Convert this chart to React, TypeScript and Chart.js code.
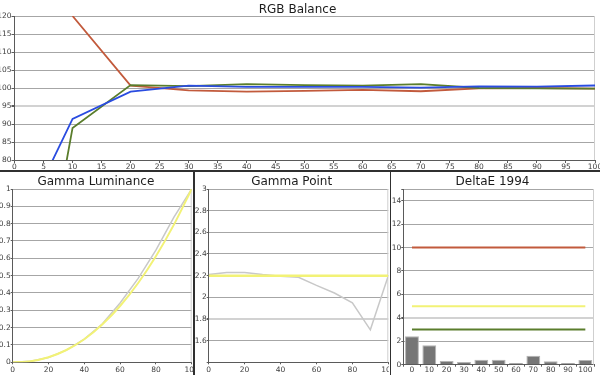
import React, { useEffect, useRef } from 'react';
import { Chart, registerables } from 'chart.js';
Chart.register(...registerables);

// ---------- data ----------
const rgbX = [0, 10, 20, 30, 40, 50, 60, 70, 80, 90, 100];
const rgbRed = [null, 120, 100.65, 99.35, 99.0, 99.2, 99.5, 99.1, 99.9, 100.0, 99.8];
const rgbGreen = [0, 88.9, 100.8, 100.5, 101.1, 100.8, 100.65, 101.1, 100.0, 99.9, 99.8];
const rgbBlue = [58, 91.4, 99.0, 100.65, 100.3, 100.3, 100.3, 100.1, 100.45, 100.4, 100.7];

const gammaX = [0, 10, 20, 30, 40, 50, 60, 70, 80, 90, 100];
const lumMeasured = [0, 0.006, 0.028, 0.07, 0.134, 0.221, 0.342, 0.483, 0.647, 0.836, 1];
const lumTarget = [0, 0.006, 0.029, 0.071, 0.133, 0.218, 0.325, 0.456, 0.612, 0.793, 1];

const gpMeasured = [2.21, 2.23, 2.23, 2.21, 2.195, 2.185, 2.11, 2.04, 1.95, 1.7, 2.2];
const gpTarget = [2.2, 2.2, 2.2, 2.2, 2.2, 2.2, 2.2, 2.2, 2.2, 2.2, 2.2];

const deCats = ['0', '10', '20', '30', '40', '50', '60', '70', '80', '90', '100'];
const deValues = [2.42, 1.66, 0.31, 0.22, 0.42, 0.42, 0.15, 0.76, 0.3, 0.15, 0.4];
const deRed = [10, 10, 10, 10, 10, 10, 10, 10, 10, 10, 10];
const deYellow = [5, 5, 5, 5, 5, 5, 5, 5, 5, 5, 5];
const deGreen = [3, 3, 3, 3, 3, 3, 3, 3, 3, 3, 3];

// ---------- styles ----------
const FONT = 'DejaVu Sans';
const TICK_FONT = { family: FONT, size: 7.5 };
const TICK_COLOR = '#404040';
const AXIS = '#5a5a5a';
const GRID = '#a6a6a6';
const LIGHT = '#d2d2d2';
const RED = '#c25a3c';
const GREEN = '#5a7d2c';
const BLUE = '#2a4ce0';
const YELLOW = '#f2f276';
const GRAY = '#c8c8c8';

const pts = (xs: number[], ys: (number | null)[]) => xs.map((x, i) => ({ x, y: ys[i] }));

const fitY = (w: number) => (s: any) => { s.width = w; s.paddingTop = 0; s.paddingBottom = 0; };
const fitX = (h: number) => (s: any) => { s.height = h; s.paddingLeft = 0; s.paddingRight = 0; };

const rightBorder = {
  id: 'rightBorder',
  beforeDatasetsDraw(chart: any) {
    const { ctx, chartArea } = chart;
    ctx.save();
    ctx.strokeStyle = '#cfcfcf';
    ctx.lineWidth = 1;
    ctx.beginPath();
    ctx.moveTo(chartArea.right - 0.5, chartArea.top);
    ctx.lineTo(chartArea.right - 0.5, chartArea.bottom);
    ctx.stroke();
    ctx.restore();
  },
};

const title = (text: string, top: number, bottom: number) => ({
  display: true,
  text,
  color: '#1c1c1c',
  font: { family: FONT, size: 12, weight: 'normal' as const, lineHeight: 1 },
  padding: { top, bottom },
});

const yGrid = (light: number | null) => ({
  color: (c: any) => (light !== null && Math.abs(c.tick.value - light) < 1e-6 ? LIGHT : GRID),
  lineWidth: (c: any) => (light !== null && Math.abs(c.tick.value - light) < 1e-6 ? 2 : 1),
  tickColor: AXIS,
  tickLength: 2,
  drawTicks: true,
});

const xGrid = { drawOnChartArea: false, drawTicks: true, tickLength: 2, color: AXIS };

function rgbConfig(): any {
  const ds = (label: string, data: (number | null)[], color: string) => ({
    label, data: pts(rgbX, data), borderColor: color, backgroundColor: color,
    borderWidth: 1.8, pointRadius: 0, tension: 0, spanGaps: false,
  });
  return {
    type: 'line',
    data: { datasets: [ds('Blue', rgbBlue, BLUE), ds('Green', rgbGreen, GREEN), ds('Red', rgbRed, RED)] },
    options: {
      responsive: false, animation: false,
      layout: { padding: { left: 0, right: 5, top: 0, bottom: 0 } },
      plugins: { legend: { display: false }, tooltip: { enabled: false }, title: title('RGB Balance', 3.5, 0.5) },
      scales: {
        x: {
          type: 'linear', min: 0, max: 100,
          ticks: { stepSize: 5, autoSkip: false, maxRotation: 0, font: TICK_FONT, color: TICK_COLOR, padding: 0 },
          grid: { ...xGrid, tickLength: 3 }, border: { color: AXIS },
          afterFit: fitX(10),
        },
        y: {
          type: 'linear', min: 80, max: 120,
          ticks: { stepSize: 5, font: TICK_FONT, color: TICK_COLOR, padding: 0 },
          grid: { ...yGrid(95), tickLength: 3 }, border: { color: AXIS },
          afterFit: fitY(14.5),
        },
      },
    },
    plugins: [rightBorder],
  };
}

function lumConfig(): any {
  return {
    type: 'line',
    data: {
      datasets: [
        { label: 'Target', data: pts(gammaX, lumTarget), borderColor: YELLOW, borderWidth: 2, pointRadius: 0, cubicInterpolationMode: 'monotone' },
        { label: 'Measured', data: pts(gammaX, lumMeasured), borderColor: GRAY, borderWidth: 1.5, pointRadius: 0, tension: 0 },
      ],
    },
    options: {
      responsive: false, animation: false,
      layout: { padding: { left: 0, right: 1.3, top: 0, bottom: 0 } },
      plugins: { legend: { display: false }, tooltip: { enabled: false }, title: title('Gamma Luminance', 3.5, 1.5) },
      scales: {
        x: {
          type: 'linear', min: 0, max: 100,
          ticks: { stepSize: 20, autoSkip: false, maxRotation: 0, font: TICK_FONT, color: TICK_COLOR, padding: 1 },
          grid: xGrid, border: { color: AXIS },
          afterFit: fitX(12.7),
        },
        y: {
          type: 'linear', min: 0, max: 1,
          ticks: { stepSize: 0.1, font: TICK_FONT, color: TICK_COLOR, padding: 0,
            callback: (v: number) => String(Math.round(v * 10) / 10) },
          grid: yGrid(null), border: { color: AXIS },
          afterFit: fitY(12.7),
        },
      },
    },
    plugins: [rightBorder],
  };
}

function gpConfig(): any {
  return {
    type: 'line',
    data: {
      datasets: [
        { label: 'Target', data: pts(gammaX, gpTarget), borderColor: YELLOW, borderWidth: 2.5, pointRadius: 0 },
        { label: 'Measured', data: pts(gammaX, gpMeasured), borderColor: GRAY, borderWidth: 1.5, pointRadius: 0, tension: 0 },
      ],
    },
    options: {
      responsive: false, animation: false,
      layout: { padding: { left: 0, right: 0.7, top: 0, bottom: 0 } },
      plugins: { legend: { display: false }, tooltip: { enabled: false }, title: title('Gamma Point', 3.5, 1.5) },
      scales: {
        x: {
          type: 'linear', min: 0, max: 100,
          ticks: { stepSize: 20, autoSkip: false, maxRotation: 0, font: TICK_FONT, color: TICK_COLOR, padding: 1 },
          grid: xGrid, border: { color: AXIS },
          afterFit: fitX(12.7),
        },
        y: {
          type: 'linear', min: 1.4, max: 3,
          ticks: { stepSize: 0.2, font: TICK_FONT, color: TICK_COLOR, padding: 0,
            callback: (v: number) => (v < 1.5 ? '' : String(Math.round(v * 10) / 10)) },
          grid: yGrid(1.8), border: { color: AXIS },
          afterFit: fitY(13.7),
        },
      },
    },
    plugins: [rightBorder],
  };
}

function deConfig(): any {
  const line = (label: string, data: number[], color: string) => ({
    type: 'line', label, data, borderColor: color, backgroundColor: color, borderWidth: 2, pointRadius: 0, order: 0,
  });
  return {
    type: 'bar',
    data: {
      labels: deCats,
      datasets: [
        line('Red', deRed, RED),
        line('Yellow', deYellow, YELLOW),
        line('Green', deGreen, GREEN),
        { type: 'bar', label: 'DeltaE', data: deValues, backgroundColor: '#767676', borderColor: '#b4b4b4',
          borderWidth: 1, barPercentage: 0.8, categoryPercentage: 1, order: 1 },
      ],
    },
    options: {
      responsive: false, animation: false,
      layout: { padding: { left: 0, right: 6, top: 0, bottom: 0 } },
      plugins: { legend: { display: false }, tooltip: { enabled: false }, title: title('DeltaE 1994', 3.5, 1.5) },
      scales: {
        x: {
          type: 'category',
          ticks: { autoSkip: false, maxRotation: 0, font: TICK_FONT, color: TICK_COLOR, padding: -1 },
          grid: { ...xGrid, offset: true }, border: { color: AXIS },
          afterFit: fitX(10.3),
        },
        y: {
          type: 'linear', min: 0, max: 15,
          ticks: { stepSize: 2, font: TICK_FONT, color: TICK_COLOR, padding: 0,
            callback: (v: number) => (v % 2 === 0 ? String(v) : '') },
          grid: yGrid(4), border: { color: AXIS },
          afterFit: fitY(12.3),
        },
      },
    },
    plugins: [rightBorder],
  };
}

function Panel({ left, top, width, height, make }: { left: number; top: number; width: number; height: number; make: () => any }) {
  const ref = useRef<HTMLCanvasElement | null>(null);
  useEffect(() => {
    if (!ref.current) return;
    const chart = new Chart(ref.current, make());
    return () => chart.destroy();
  }, [make]);
  return (
    <div style={{ position: 'absolute', left, top, width, height, overflow: 'hidden', background: '#fff' }}>
      <canvas ref={ref} width={width} height={height} style={{ width, height, display: 'block' }} />
    </div>
  );
}

export default function App() {
  return (
    <div style={{ position: 'fixed', left: 0, top: 0, width: 600, height: 375, background: '#fff', overflow: 'hidden' }}>
      <Panel left={0} top={0} width={600} height={170} make={rgbConfig} />
      <Panel left={0} top={172} width={193} height={203} make={lumConfig} />
      <Panel left={195} top={172} width={194} height={203} make={gpConfig} />
      <Panel left={391} top={172} width={209} height={203} make={deConfig} />
      <div style={{ position: 'absolute', left: 0, top: 170, width: 600, height: 2, background: '#303030' }} />
      <div style={{ position: 'absolute', left: 193, top: 171, width: 2, height: 204, background: '#303030' }} />
      <div style={{ position: 'absolute', left: 389.5, top: 171, width: 1.5, height: 204, background: '#303030' }} />
    </div>
  );
}
